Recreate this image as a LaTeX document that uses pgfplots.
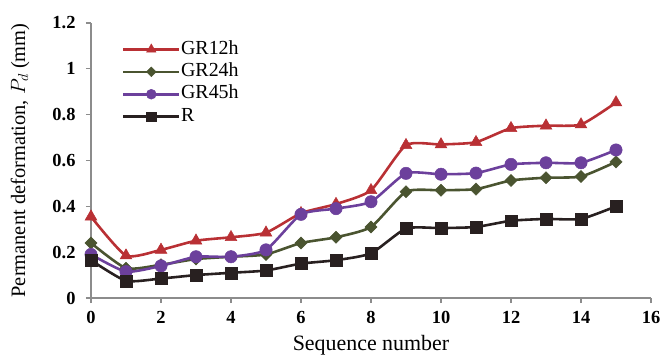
\documentclass[border=0pt]{standalone}
\usepackage{pgfplots}
\pgfplotsset{compat=1.18}
\usepackage{fontspec}
\setmainfont{Liberation Serif}
\definecolor{cA}{RGB}{185,48,52}
\definecolor{cB}{RGB}{74,84,48}
\definecolor{cC}{RGB}{108,64,156}
\definecolor{cD}{RGB}{40,32,32}
\definecolor{axg}{RGB}{140,140,140}
\pgfplotstableread{
x a b c d
0 0.355 0.240 0.190 0.165
1 0.185 0.130 0.115 0.075
2 0.210 0.145 0.140 0.085
3 0.250 0.170 0.180 0.100
4 0.265 0.180 0.180 0.110
5 0.285 0.190 0.210 0.120
6 0.370 0.240 0.365 0.150
7 0.410 0.265 0.390 0.165
8 0.470 0.310 0.420 0.195
9 0.667 0.464 0.544 0.303
10 0.670 0.470 0.540 0.305
11 0.680 0.475 0.545 0.310
12 0.741 0.513 0.583 0.337
13 0.752 0.525 0.590 0.345
14 0.757 0.530 0.590 0.345
15 0.853 0.594 0.646 0.400
}\data
\begin{document}
\begin{tikzpicture}
\useasboundingbox (-91bp,-60bp) rectangle (571bp,298bp);
\begin{axis}[
  at={(0,0)}, anchor=south west,
  scale only axis, width=560bp, height=275bp,
  xmin=0, xmax=16, ymin=0, ymax=1.2,
  xtick={0,2,...,16}, ytick={0,0.2,...,1.2},
  axis lines=left, axis line style={-, axg, line width=1.3pt},
  tick style={axg, line width=1.3pt}, tick align=outside, major tick length=5bp,
  /pgf/number format/assume math mode=true,
  tick label style={font=\bfseries\fontsize{18.5}{18.5}\selectfont, black},
  xticklabel style={yshift=-5bp},
  yticklabel style={/pgf/number format/fixed, xshift=-7bp},
  xlabel={Sequence number},
  ylabel={Permanent deformation, $P_d$ (mm)},
  xlabel style={font=\fontsize{22}{22}\selectfont, at={(axis description cs:0.5,0)}, anchor=center, yshift=-47bp},
  ylabel style={font=\fontsize{20.5}{20.5}\selectfont, at={(axis description cs:0,0.5)}, anchor=center, yshift=71bp},
  legend style={draw=none, fill=none, inner sep=0pt, at={(0.055,0.94)}, anchor=north west,
    font=\fontsize{20}{20}\selectfont, row sep=3pt,
    nodes={inner sep=0.5pt, text height=14pt, text depth=4.5pt}},
  legend cell align=left,
  legend image code/.code={\draw[#1] (0bp,0bp) -- (56bp,0bp); \draw[#1, only marks, every mark/.append style={scale=0.8}] plot coordinates {(28bp,0bp)};},
  every axis plot/.append style={line width=2.6pt, smooth, tension=0.35},
]
\addplot[color=cA, mark=triangle*, mark size=6.8pt, mark options={fill=cA, line width=0.5pt}] table[x=x,y=a]{\data};
\addlegendentry{GR12h}
\addplot[color=cB, mark=square*, mark size=4.3pt, mark options={fill=cB, line width=0.5pt, rotate=45}] table[x=x,y=b]{\data};
\addlegendentry{GR24h}
\addplot[color=cC, mark=*, mark size=6.2pt, mark options={fill=cC, line width=0.5pt}] table[x=x,y=c]{\data};
\addlegendentry{GR45h}
\addplot[color=cD, mark=square*, mark size=6pt, mark options={fill=cD, line width=0.5pt}] table[x=x,y=d]{\data};
\addlegendentry{R}
\end{axis}
\end{tikzpicture}
\end{document}
